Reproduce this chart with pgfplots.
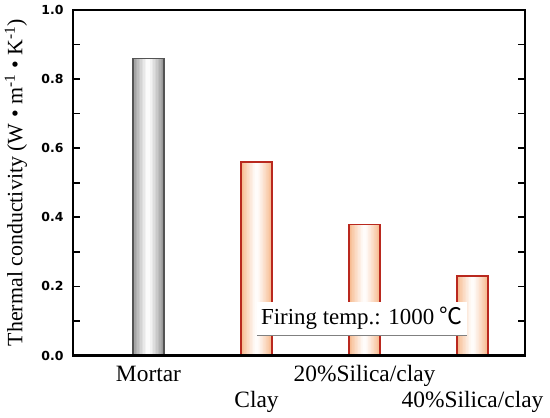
\documentclass[border=0pt]{standalone}
\usepackage{pgfplots}
\usepackage{pgfplotstable}
\pgfplotsset{compat=1.18}
\usepackage{fontspec}
\setmainfont{Liberation Serif}
\newfontfamily\tickfont{DejaVu Sans}
\newfontfamily\cjk{Noto Sans CJK SC}
\definecolor{mortaredge}{gray}{0.33}
\definecolor{mortarside}{gray}{0.60}
\definecolor{clayedge}{RGB}{185,40,30}
\definecolor{clayside}{RGB}{247,186,142}
\pgfplotstableread{
x y
0 0.86
}\mortardata
\pgfplotstableread{
x y
1 0.56
2 0.38
3 0.23
}\claydata
% one layer of the horizontal gradient: width (bp), percent of white
\newcommand{\mortarlayer}[2]{\addplot[ybar, bar shift=0pt, draw=none, bar width=#1bp, fill=white!#2!mortarside] table {\mortardata};}
\newcommand{\claylayer}[2]{\addplot[ybar, bar shift=0pt, draw=none, bar width=#1bp, fill=white!#2!clayside] table {\claydata};}
\begin{document}
\begin{tikzpicture}
\useasboundingbox (0,0) rectangle (550bp,418bp);
\begin{axis}[
  at={(73bp,62.5bp)}, anchor=south west,
  scale only axis, width=452bp, height=345.5bp,
  xmin=-0.699, xmax=3.486, ymin=0, ymax=1.0,
  axis on top,
  axis line style={line width=2.6bp, black},
  xtick={0,1,2,3},
  xticklabels={{\strut Mortar},{\strut\\Clay},{\strut 20\%Silica/clay},{\strut\\40\%Silica/clay}},
  x tick style={draw=none},
  xticklabel style={font=\fontsize{23.5}{26}\selectfont, align=center, yshift=-4bp},
  ytick={0,0.2,0.4,0.6,0.8,1.0},
  minor y tick num=1,
  tick align=inside, tick pos=both,
  y tick style={line width=1.6bp, black},
  major tick length=7bp, minor tick length=7bp,
  yticklabel style={font=\fontsize{12.5}{15}\tickfont\bfseries, xshift=-6bp,
    /pgf/number format/.cd, fixed, fixed zerofill, precision=1, assume math mode=true},
  ylabel={Thermal conductivity (W \textbullet{} m\textsuperscript{-1} \textbullet{} K\textsuperscript{-1})},
  ylabel style={at={(axis description cs:-0.126,0.5)}, anchor=center, font=\fontsize{22}{26}\selectfont},
]
\mortarlayer{31}{0}
\mortarlayer{28}{12}
\mortarlayer{25}{24}
\mortarlayer{22}{35}
\mortarlayer{19}{46}
\mortarlayer{16}{57}
\mortarlayer{13}{67}
\mortarlayer{10}{77}
\mortarlayer{7}{87}
\mortarlayer{4}{96}
\claylayer{31}{0}
\claylayer{28}{12}
\claylayer{25}{24}
\claylayer{22}{35}
\claylayer{19}{46}
\claylayer{16}{57}
\claylayer{13}{67}
\claylayer{10}{77}
\claylayer{7}{87}
\claylayer{4}{96}
\addplot[ybar, bar shift=0pt, bar width=31bp, draw=mortaredge, line width=1.3bp, fill=none] table {\mortardata};
\addplot[ybar, bar shift=0pt, bar width=31bp, draw=clayedge, line width=1.1bp, fill=none] table {\claydata};
\node[fill=white, minimum width=210bp, minimum height=33bp, inner sep=0pt,
  font=\fontsize{23}{26}\selectfont] (fb) at (axis cs:1.977,0.107)
  {Firing temp.: 1000 {\cjk ℃}};
\draw[gray, line width=0.8bp] (fb.south west) -- (fb.south east);
\end{axis}
\end{tikzpicture}
\end{document}
